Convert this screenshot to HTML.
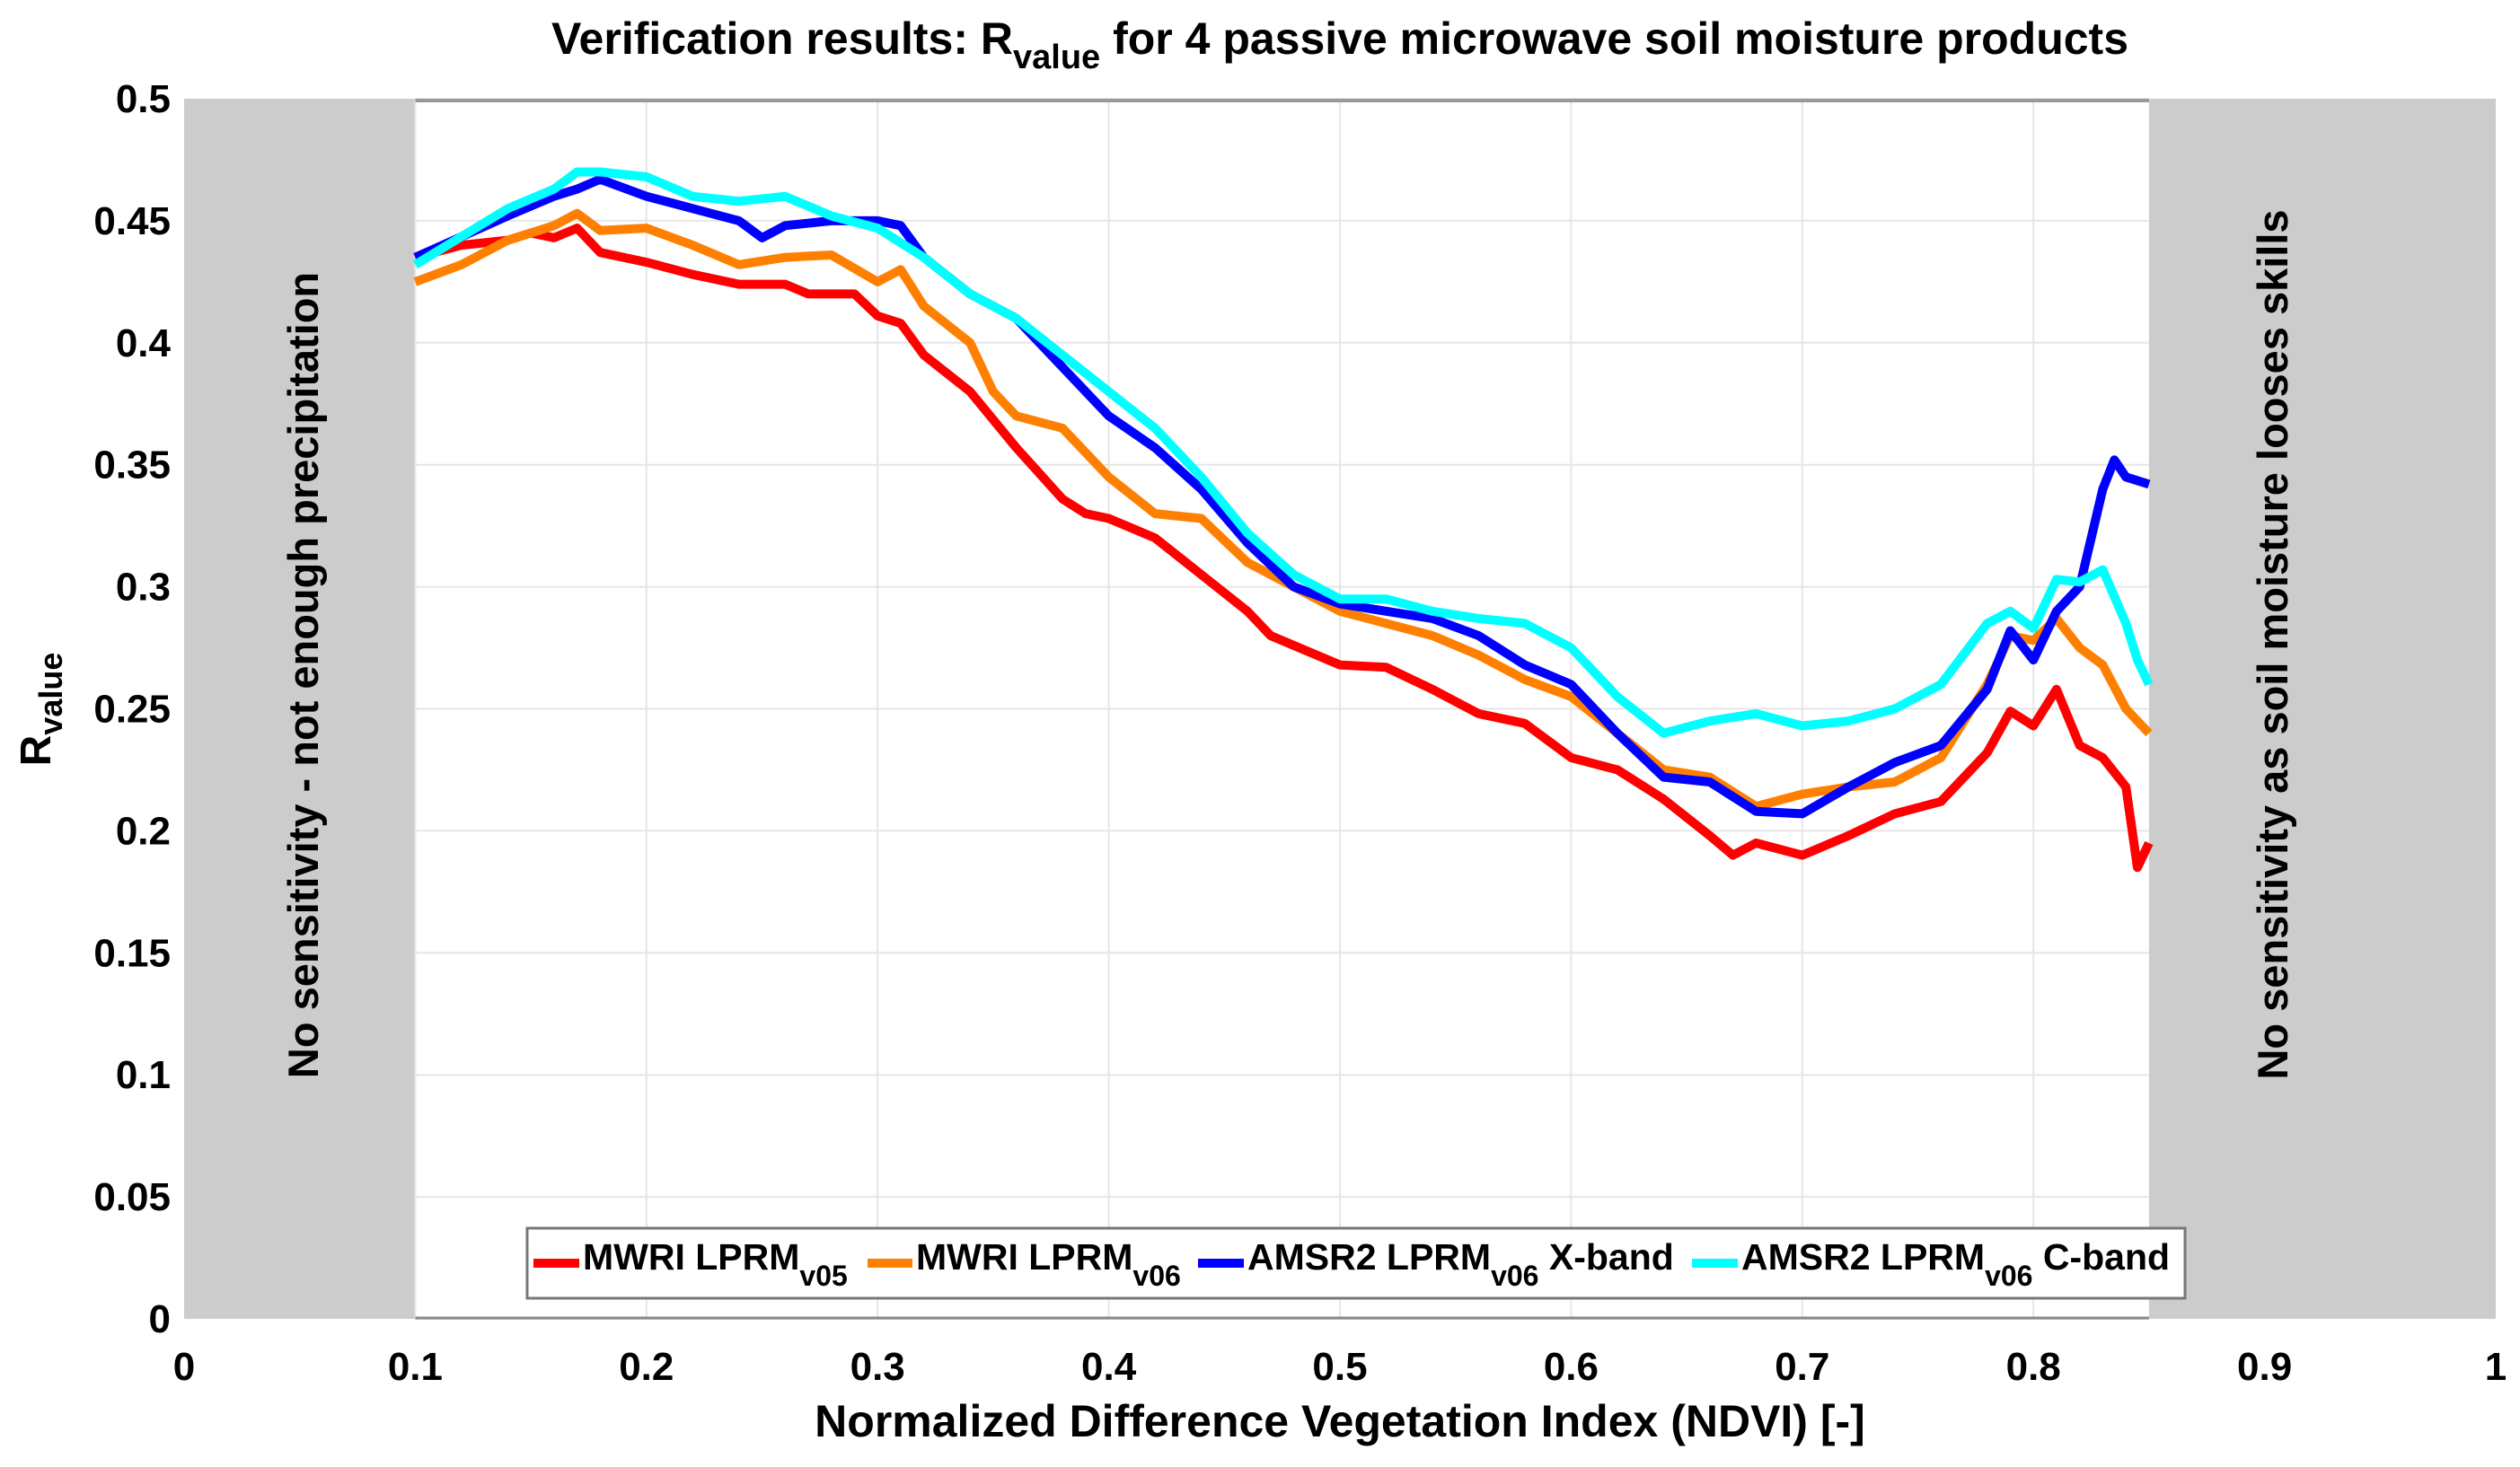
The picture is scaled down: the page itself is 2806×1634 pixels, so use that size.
<!DOCTYPE html>
<html><head><meta charset="utf-8"><style>
body{margin:0;background:#fff}
svg text{font-family:"Liberation Sans",sans-serif;font-weight:bold;fill:#000}
</style></head><body>
<svg id="chart" width="2806" height="1629" viewBox="0 0 2806 1629" xmlns="http://www.w3.org/2000/svg">
<g id="bg"></g><g id="grid"></g><g id="series"></g><g id="axes"></g>
</svg>
<script>
const xTicks=[0,0.1,0.2,0.3,0.4,0.5,0.6,0.7,0.8,0.9,1];
const xTickLabels=["0","0.1","0.2","0.3","0.4","0.5","0.6","0.7","0.8","0.9","1"];
const yTicks=[0,0.05,0.1,0.15,0.2,0.25,0.3,0.35,0.4,0.45,0.5];
const yTickLabels=["0","0.05","0.1","0.15","0.2","0.25","0.3","0.35","0.4","0.45","0.5"];
const seriesNames=["MWRI LPRM v05","MWRI LPRM v06","AMSR2 LPRM v06 X-band","AMSR2 LPRM v06 C-band"];
const redX=[0.1,0.12,0.14,0.15,0.16,0.17,0.18,0.2,0.22,0.24,0.26,0.27,0.29,0.3,0.31,0.32,0.34,0.36,0.38,0.39,0.4,0.42,0.44,0.46,0.47,0.5,0.52,0.54,0.56,0.58,0.6,0.62,0.64,0.66,0.67,0.68,0.7,0.72,0.74,0.76,0.78,0.79,0.8,0.81,0.82,0.83,0.84,0.845,0.85];
const redY=[0.435,0.44,0.442,0.445,0.443,0.447,0.437,0.433,0.428,0.424,0.424,0.42,0.42,0.411,0.408,0.395,0.38,0.357,0.336,0.33,0.328,0.32,0.305,0.29,0.28,0.268,0.267,0.258,0.248,0.244,0.23,0.225,0.213,0.198,0.19,0.195,0.19,0.198,0.207,0.212,0.232,0.249,0.243,0.258,0.235,0.23,0.218,0.185,0.195];
const orangeX=[0.1,0.12,0.14,0.16,0.17,0.18,0.2,0.22,0.24,0.26,0.28,0.3,0.31,0.32,0.34,0.35,0.36,0.38,0.4,0.42,0.44,0.46,0.48,0.5,0.52,0.54,0.56,0.58,0.6,0.62,0.64,0.66,0.68,0.7,0.72,0.74,0.76,0.78,0.79,0.8,0.81,0.82,0.83,0.84,0.85];
const orangeY=[0.425,0.432,0.442,0.448,0.453,0.446,0.447,0.44,0.432,0.435,0.436,0.425,0.43,0.415,0.4,0.38,0.37,0.365,0.345,0.33,0.328,0.31,0.3,0.29,0.285,0.28,0.272,0.262,0.255,0.24,0.225,0.222,0.21,0.215,0.218,0.22,0.23,0.26,0.28,0.278,0.287,0.275,0.268,0.25,0.24];
const blueX=[0.1,0.14,0.16,0.17,0.18,0.2,0.22,0.24,0.25,0.26,0.28,0.3,0.31,0.32,0.34,0.36,0.38,0.4,0.42,0.44,0.46,0.48,0.5,0.52,0.54,0.56,0.58,0.6,0.62,0.64,0.66,0.68,0.7,0.72,0.74,0.76,0.78,0.79,0.8,0.81,0.82,0.83,0.835,0.84,0.85];
const blueY=[0.435,0.452,0.46,0.463,0.467,0.46,0.455,0.45,0.443,0.448,0.45,0.45,0.448,0.435,0.42,0.41,0.39,0.37,0.357,0.34,0.318,0.3,0.293,0.29,0.287,0.28,0.268,0.26,0.24,0.222,0.22,0.208,0.207,0.218,0.228,0.235,0.258,0.282,0.27,0.29,0.3,0.34,0.352,0.345,0.342];
const cyanX=[0.1,0.14,0.16,0.17,0.18,0.2,0.22,0.24,0.26,0.28,0.3,0.32,0.34,0.36,0.38,0.4,0.42,0.44,0.46,0.48,0.5,0.52,0.54,0.56,0.58,0.6,0.62,0.64,0.66,0.68,0.7,0.72,0.74,0.76,0.78,0.79,0.8,0.81,0.82,0.83,0.84,0.845,0.85];
const cyanY=[0.432,0.455,0.463,0.47,0.47,0.468,0.46,0.458,0.46,0.452,0.447,0.435,0.42,0.41,0.395,0.38,0.365,0.345,0.322,0.305,0.295,0.295,0.29,0.287,0.285,0.275,0.255,0.24,0.245,0.248,0.243,0.245,0.25,0.26,0.285,0.29,0.283,0.303,0.302,0.307,0.285,0.27,0.26];

const X0=205,X1=2779,Y0=1469,Y1=110;
const sx=v=>X0+(X1-X0)*v, sy=v=>Y0-(Y0-Y1)*v/0.5;
const NS="http://www.w3.org/2000/svg";
function mk(tag,attrs,parent,text){const e=document.createElementNS(NS,tag);for(const k in attrs)e.setAttribute(k,attrs[k]);if(text!==undefined)e.textContent=text;document.getElementById(parent).appendChild(e);return e;}

let pb=mk('rect',{x:X0,y:Y1,width:X1-X0,height:Y0-Y1,fill:'#fff'},'bg');


let gl=mk('rect',{x:sx(0),y:Y1,width:sx(0.1)-sx(0),height:Y0-Y1,fill:'#cccccc'},'bg');


let gr=mk('rect',{x:sx(0.85),y:Y1,width:sx(1)-sx(0.85),height:Y0-Y1,fill:'#cccccc'},'bg');



xTicks.forEach(t=>{if(t>0.05&&t<0.86){let l=mk('line',{x1:sx(t),x2:sx(t),y1:Y1,y2:Y0,stroke:'#e6e6e6','stroke-width':2},'grid');

}});
yTicks.forEach(t=>{let l=mk('line',{x1:sx(0.1),x2:sx(0.85),y1:sy(t),y2:sy(t),stroke:'#e6e6e6','stroke-width':2},'grid');

});
let tb=mk('line',{x1:sx(0.1),x2:sx(0.85),y1:Y1+2,y2:Y1+2,stroke:'#999','stroke-width':4},'grid');


let bb=mk('line',{x1:sx(0.1),x2:sx(0.85),y1:Y0-1,y2:Y0-1,stroke:'#888','stroke-width':3},'grid');



const colors=['#ff0000','#ff8000','#0000ff','#00ffff'];
[[redX,redY],[orangeX,orangeY],[blueX,blueY],[cyanX,cyanY]].forEach((s,i)=>{
 const d=s[0].map((x,j)=>(j?'L':'M')+sx(x).toFixed(1)+','+sy(s[1][j]).toFixed(1)).join(' ');
 let p=mk('path',{d:d,fill:'none',stroke:colors[i],'stroke-width':10,'stroke-linejoin':'round'},'series');
 
 
});

xTicks.forEach((t,i)=>{let e=mk('text',{x:sx(t),y:1537,'font-size':44,'text-anchor':'middle'},'axes',xTickLabels[i]);

});
yTicks.forEach((t,i)=>{let e=mk('text',{x:190,y:sy(t)+15,'font-size':44,'text-anchor':'end'},'axes',yTickLabels[i]);

});
</script>
<svg style="position:absolute;left:0;top:0" width="2806" height="1629">
<text x="1492" y="60" font-size="50" text-anchor="middle">Verification results: R<tspan font-size="38" dy="16">value</tspan><tspan dy="-16"> for 4 passive microwave soil moisture products</tspan></text>
<text x="1492" y="1600" font-size="50" text-anchor="middle" fill="#222">Normalized Difference Vegetation Index (NDVI) [-]</text>
<text transform="translate(56,790) rotate(-90)" font-size="48" text-anchor="middle">R<tspan font-size="36" dy="13">value</tspan></text>
<text transform="translate(354,752) rotate(-90)" font-size="47" text-anchor="middle">No sensitivity - not enough precipitation</text>
<text transform="translate(2547,718) rotate(-90)" font-size="47" text-anchor="middle">No sensitivity as soil moisture looses skills</text>
<g>
<rect x="587" y="1368" width="1846" height="78" fill="#fff" stroke="#777" stroke-width="3"/>
<line x1="594" x2="645" y1="1407" y2="1407" stroke="#ff0000" stroke-width="10"/>
<text x="649" y="1414" font-size="41">MWRI LPRM<tspan font-size="32" dy="18">v05</tspan></text>
<line x1="966" x2="1016" y1="1407" y2="1407" stroke="#ff8000" stroke-width="10"/>
<text x="1020" y="1414" font-size="41">MWRI LPRM<tspan font-size="32" dy="18">v06</tspan></text>
<line x1="1334" x2="1385" y1="1407" y2="1407" stroke="#0000ff" stroke-width="10"/>
<text x="1389" y="1414" font-size="41">AMSR2 LPRM<tspan font-size="32" dy="18">v06</tspan><tspan dy="-18"> X-band</tspan></text>
<line x1="1884" x2="1935" y1="1407" y2="1407" stroke="#00ffff" stroke-width="10"/>
<text x="1939" y="1414" font-size="41">AMSR2 LPRM<tspan font-size="32" dy="18">v06</tspan><tspan dy="-18"> C-band</tspan></text>
</g>
</svg>
</body></html>
